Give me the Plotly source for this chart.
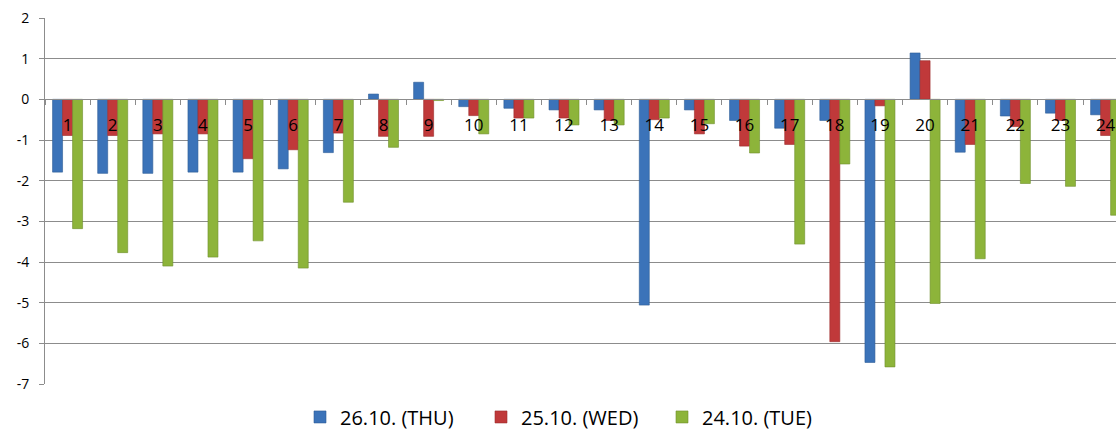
import plotly.graph_objects as go

hours = [str(i) for i in range(1, 25)]
thu_26 = [-1.79, -1.82, -1.82, -1.79, -1.79, -1.71, -1.31, 0.13, 0.42, -0.18, -0.22, -0.26,
          -0.26, -5.06, -0.26, -0.52, -0.71, -0.52, -6.47, 1.14, -1.30, -0.41, -0.34, -0.38]
wed_25 = [-0.89, -0.89, -0.85, -0.85, -1.46, -1.24, -0.83, -0.91, -0.91, -0.40, -0.46, -0.46,
          -0.52, -0.50, -0.85, -1.15, -1.11, -5.96, -0.16, 0.95, -1.11, -0.67, -0.52, -0.89]
tue_24 = [-3.18, -3.77, -4.10, -3.88, -3.48, -4.15, -2.53, -1.18, -0.03, -0.85, -0.46, -0.63,
          -0.63, -0.46, -0.60, -1.32, -3.56, -1.59, -6.58, -5.02, -3.92, -2.07, -2.14, -2.85]
series_names = ["26.10. (THU)", "25.10. (WED)", "24.10. (TUE)"]
y_ticks = [2, 1, 0, -1, -2, -3, -4, -5, -6, -7]

colors = ["#3b73b9", "#c0393a", "#8db43a"]
edges = ["#2d5c96", "#9a2b2b", "#6f8f2c"]

fig = go.Figure()
for name, vals, c, e in zip(series_names, [thu_26, wed_25, tue_24], colors, edges):
    fig.add_trace(go.Bar(x=hours, y=vals, name=name,
                         marker=dict(color=c, line=dict(color=e, width=0.6))))

fig.update_layout(
    width=1116, height=432,
    margin=dict(l=45, r=0, t=18, b=48, autoexpand=False),
    paper_bgcolor="white", plot_bgcolor="white",
    barmode="group", bargap=0.335, bargroupgap=0,
    font=dict(family="Open Sans", color="black"),
    showlegend=True,
    legend=dict(orientation="h", x=0.4916, xanchor="center", y=-0.09, yanchor="middle",
                font=dict(size=20), entrywidth=136, entrywidthmode="pixels", itemclick=False),
    xaxis=dict(type="category", range=[-0.5, 23.23], anchor="free", position=7/9,
               showline=True, linecolor="#8c8c8c", linewidth=1,
               ticks="outside", tickson="boundaries", ticklen=5, tickcolor="#8c8c8c",
               tickfont=dict(size=17), ticklabelstandoff=10, showgrid=False, zeroline=False),
    yaxis=dict(range=[-7, 2], tickvals=y_ticks, ticktext=[str(v) for v in y_ticks],
               showline=True, linecolor="#8c8c8c", linewidth=1,
               ticks="outside", ticklen=5, tickcolor="#8c8c8c",
               showgrid=True, gridcolor="#8c8c8c", gridwidth=1, zeroline=False,
               tickfont=dict(size=14), ticklabelstandoff=7),
)

fig.write_html("out.html", config={"displayModeBar": False},
               post_script="document.body.style.margin='0';document.body.style.overflow='hidden';")
